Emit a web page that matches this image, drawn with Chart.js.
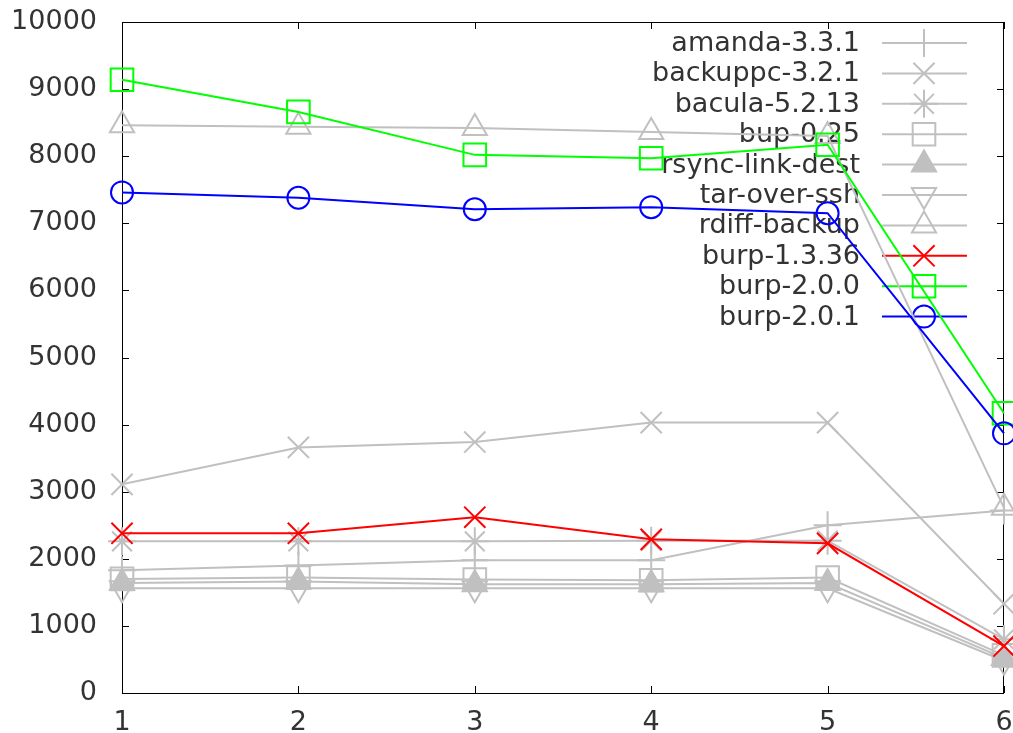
<!DOCTYPE html>
<html>
<head>
<meta charset="utf-8">
<script src="https://cdn.jsdelivr.net/npm/chart.js@4/dist/chart.umd.min.js"></script>
<style>
  html, body { margin: 0; padding: 0; background: #fff; }
  #wrap { width: 1013px; height: 733px; }
</style>
</head>
<body>
<div id="wrap"><canvas id="c" width="1013" height="733"></canvas></div>
<script>
// Run index on the x axis
const runs = ['1', '2', '3', '4', '5', '6'];
const yTicks = [0, 1000, 2000, 3000, 4000, 5000, 6000, 7000, 8000, 9000, 10000];

// Measured value per run for each tool
const amanda     = [1830, 1900, 1980, 1980, 2500, 2720];
const backuppc   = [3110, 3660, 3740, 4030, 4030, 1330];
const bacula     = [2260, 2260, 2260, 2270, 2270, 800];
const bup        = [1700, 1720, 1690, 1680, 1720, 560];
const rsyncLink  = [1640, 1660, 1620, 1620, 1640, 520];
const tarOverSsh = [1560, 1560, 1560, 1560, 1560, 480];
const rdiff      = [8460, 8440, 8420, 8360, 8300, 2760];
const burp1336   = [2380, 2380, 2620, 2290, 2230, 700];
const burp200    = [9140, 8660, 8020, 7970, 8170, 4170];
const burp201    = [7460, 7380, 7210, 7240, 7150, 3870];

const GREY = '#c0c0c0';
const CLEAR = 'rgba(0,0,0,0)';

const series = [
  { label: 'amanda-3.3.1',     data: amanda,     color: GREY,      style: 'cross',    radius: 14, fill: CLEAR, rot: 0 },
  { label: 'backuppc-3.2.1',   data: backuppc,   color: GREY,      style: 'crossRot', radius: 15, fill: CLEAR, rot: 0 },
  { label: 'bacula-5.2.13',    data: bacula,     color: GREY,      style: 'star',     radius: 14, fill: CLEAR, rot: 0 },
  { label: 'bup-0.25',         data: bup,        color: GREY,      style: 'rect',     radius: 16, fill: CLEAR, rot: 0 },
  { label: 'rsync-link-dest',  data: rsyncLink,  color: GREY,      style: 'triangle', radius: 14, fill: GREY,  rot: 0 },
  { label: 'tar-over-ssh',     data: tarOverSsh, color: GREY,      style: 'triangle', radius: 14, fill: CLEAR, rot: 180 },
  { label: 'rdiff-backup',     data: rdiff,      color: GREY,      style: 'triangle', radius: 14, fill: CLEAR, rot: 0 },
  { label: 'burp-1.3.36',      data: burp1336,   color: '#ff0000', style: 'crossRot', radius: 15, fill: CLEAR, rot: 0 },
  { label: 'burp-2.0.0',       data: burp200,    color: '#00ff00', style: 'rect',     radius: 16, fill: CLEAR, rot: 0 },
  { label: 'burp-2.0.1',       data: burp201,    color: '#0000ff', style: 'circle',   radius: 11, fill: CLEAR, rot: 0 }
];

const FONT = { family: 'DejaVu Sans', size: 27 };
const TEXT = '#333333';

// Gnuplot-style frame: closed border, inward tick marks on all four sides, key inside top-right
const framePlugin = {
  id: 'frame',
  beforeDatasetsDraw(chart) {
    const { ctx, chartArea: a, scales } = chart;
    ctx.save();
    ctx.strokeStyle = '#000';
    ctx.lineWidth = 1;
    ctx.strokeRect(a.left + 0.5, a.top + 0.5, a.right - a.left - 1, a.bottom - a.top);
    const tl = 7;
    ctx.beginPath();
    yTicks.forEach(v => {
      const y = Math.round(scales.y.getPixelForValue(v)) + 0.5;
      ctx.moveTo(a.left, y); ctx.lineTo(a.left + tl, y);
      ctx.moveTo(a.right, y); ctx.lineTo(a.right - tl, y);
    });
    runs.forEach((r, i) => {
      const x = Math.round(scales.x.getPixelForValue(i)) + 0.5;
      ctx.moveTo(x, a.bottom); ctx.lineTo(x, a.bottom - tl);
      ctx.moveTo(x, a.top); ctx.lineTo(x, a.top + tl);
    });
    ctx.stroke();

    // key
    const textRight = 860, lineL = 882, lineR = 967, markX = 924;
    const y0 = 43, dy = 30.4;
    ctx.font = FONT.size + 'px "' + FONT.family + '"';
    ctx.textAlign = 'right';
    ctx.textBaseline = 'middle';
    series.forEach((s, i) => {
      const y = y0 + i * dy;
      ctx.fillStyle = TEXT;
      ctx.fillText(s.label, textRight, y + 1);
      ctx.strokeStyle = s.color;
      ctx.lineWidth = 2;
      ctx.beginPath();
      ctx.moveTo(lineL, y); ctx.lineTo(lineR, y);
      ctx.stroke();
      ctx.fillStyle = s.fill;
      Chart.helpers.drawPoint(ctx, {
        pointStyle: s.style, rotation: s.rot, radius: s.radius, borderWidth: 2
      }, markX, y);
    });
    ctx.restore();
  }
};

const datasets = series.map((s, i) => ({
  label: s.label,
  data: s.data,
  borderColor: s.color,
  borderWidth: 2,
  backgroundColor: s.fill,
  pointStyle: s.style,
  pointRotation: s.rot,
  pointRadius: s.radius,
  pointBorderWidth: 2,
  pointBorderColor: s.color,
  pointBackgroundColor: s.fill,
  tension: 0,
  fill: false,
  clip: false,
  order: series.length - i
}));

new Chart(document.getElementById('c'), {
  type: 'line',
  data: { labels: runs, datasets },
  plugins: [framePlugin],
  options: {
    responsive: false,
    animation: false,
    devicePixelRatio: 1,
    layout: { autoPadding: false, padding: { top: 22, right: 9, left: 0, bottom: 0 } },
    plugins: { legend: { display: false }, tooltip: { enabled: false } },
    scales: {
      x: {
        type: 'category',
        offset: false,
        grid: { display: false, drawTicks: false },
        border: { display: false },
        ticks: { color: TEXT, font: FONT, padding: 14, maxRotation: 0, autoSkip: false },
        afterFit(scale) {
          scale.height = 40;
          scale.paddingLeft = 0; scale.paddingRight = 0;
        }
      },
      y: {
        min: 0, max: 10000,
        grid: { display: false, drawTicks: false },
        border: { display: false },
        ticks: {
          color: TEXT, font: FONT, padding: 25, stepSize: 1000,
          callback: v => String(v)
        },
        afterFit(scale) {
          scale.width = 122;
          scale.paddingTop = 0; scale.paddingBottom = 0;
        }
      }
    }
  }
});
</script>
</body>
</html>
